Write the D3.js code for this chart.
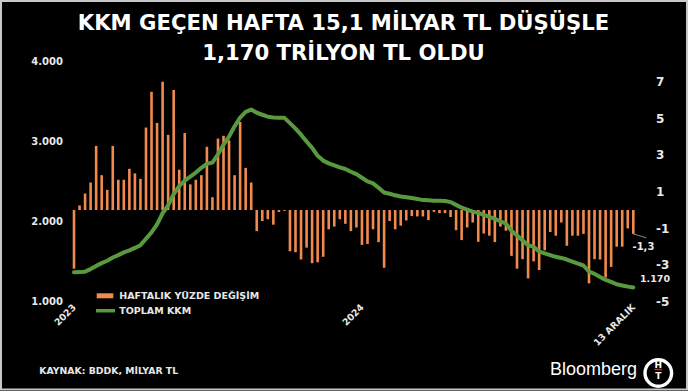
<!DOCTYPE html>
<html>
<head>
<meta charset="utf-8">
<script src="https://cdn.jsdelivr.net/npm/d3@7"></script>
<style>
  body { margin: 0; background: #000; }
  svg { display: block; }
  text { font-family: "DejaVu Sans", Verdana, sans-serif; font-weight: bold; }
</style>
</head>
<body>
<div id="chart"></div>
<script>
// haftalik yuzde degisim (sag eksen, %)
const weeklyChange = [
  -3.2, 0.25, 0.9, 1.5, 3.5, 1.9, 1.1, 3.5, 1.65, 1.65,
  2.25, 2.0, 1.7, 4.5, 6.45, 4.75, 7.0, 4.1, 6.55, 2.2,
  4.2, 1.4, 1.65, 1.9, 3.45, 0.7, 3.9, 4.05, 3.8, 1.9,
  4.8, 2.3, 1.5, -1.15, -0.6, -0.5, -0.8, -0.1, -0.05, -2.25,
  -2.3, -2.7, -2.05, -2.9, -2.85, -2.55, -1.05, -0.9, -0.5, -0.75,
  -1.15, -0.95, -1.9, -1.85, -1.05, -1.75, -3.15, -0.6, -1.05, -0.85,
  -0.57, -0.33, -0.35, -0.35, -0.55, -0.1, -0.17, -0.17, -0.38, -1.1,
  -1.64, -0.95, -0.68, -1.73, -1.28, -1.4, -1.75, -0.9, -1.13, -2.5,
  -3.2, -2.68, -3.73, -2.8, -3.27, -2.2, -1.2, -1.4, -0.68, -1.95,
  -1.4, -1.4, -1.3, -4.0, -2.68, -2.7, -3.68, -3.1, -2.0, -2.0,
  -1.0, -1.3
];

// toplam KKM (sol eksen, milyar TL)
const totalKKM = [
  1360, 1362, 1368, 1400, 1440, 1475, 1505, 1545, 1575, 1610,
  1635, 1665, 1700, 1780, 1860, 1960, 2100, 2200, 2340, 2440,
  2510, 2560, 2610, 2670, 2720, 2735, 2840, 2960, 3060, 3190,
  3300, 3370, 3400, 3360, 3335, 3310, 3300, 3296, 3296, 3230,
  3160, 3085, 3000, 2920, 2820, 2760, 2725, 2700, 2675, 2655,
  2620, 2590, 2545, 2500, 2475, 2420, 2360, 2345, 2325, 2310,
  2300, 2290, 2280, 2265, 2262, 2258, 2256, 2254, 2240, 2205,
  2170, 2145, 2120, 2105, 2080, 2055, 2030, 2000, 1970, 1880,
  1820, 1760, 1700, 1680, 1620, 1596, 1575, 1554, 1540, 1520,
  1495, 1470, 1445, 1370, 1340, 1300, 1265, 1240, 1210, 1195,
  1180, 1170
];

const leftTicks = [1000, 2000, 3000, 4000];
const rightTicks = [7, 5, 3, 1, -1, -3, -5];
const xLabelWeeks = [0, 52, 101];
const xLabelTexts = ["2023", "2024", "13 ARALIK"];
const titleLines = ["KKM GEÇEN HAFTA 15,1 MİLYAR TL DÜŞÜŞLE", "1,170 TRİLYON TL OLDU"];
const legendLabels = ["HAFTALIK YÜZDE DEĞİŞİM", "TOPLAM KKM"];
const sourceText = "KAYNAK: BDDK, MİLYAR TL";

const W = 688, H = 391;
const orange = "#f28a4e", green = "#5a9a3e", txt = "#e8e8e8";

const trLocale = d3.formatLocale({decimal: ",", thousands: ".", grouping: [3], currency: ["", ""], minus: "-"});

const svg = d3.select("#chart").append("svg")
  .attr("width", W).attr("height", H);

svg.append("rect").attr("width", W).attr("height", H).attr("fill", "#000");

// scales
const x = d3.scaleLinear().domain([0, weeklyChange.length - 1]).range([74, 633.3]);
const yL = d3.scaleLinear().domain([1000, 4000]).range([301, 61.7]);
const yR = d3.scaleLinear().domain([-5, 7]).range([301.7, 81.7]);

// title
svg.append("g").selectAll("text")
  .data(titleLines)
  .join("text")
  .attr("x", 343.5)
  .attr("y", (d, i) => 29.5 + i * 30)
  .attr("text-anchor", "middle")
  .attr("font-size", 21.2)
  .attr("fill", "#fff")
  .text(d => d);

// left axis
const axL = svg.append("g")
  .attr("transform", "translate(63,0)")
  .call(d3.axisLeft(yL).tickValues(leftTicks).tickSize(0).tickPadding(0).tickFormat(trLocale.format(",")));
axL.select(".domain").remove();
axL.selectAll("text").attr("font-size", 10).attr("fill", txt).attr("font-family", null);

// right axis
const axR = svg.append("g")
  .attr("transform", "translate(656,0)")
  .call(d3.axisRight(yR).tickValues(rightTicks).tickSize(0).tickPadding(0).tickFormat(trLocale.format("d")));
axR.select(".domain").remove();
axR.selectAll("text").attr("font-size", 12).attr("fill", txt).attr("font-family", null);

// bars
svg.append("g")
  .selectAll("rect")
  .data(weeklyChange)
  .join("rect")
  .attr("x", (d, i) => x(i) - 1.3)
  .attr("width", 2.6)
  .attr("y", d => yR(Math.max(0, d)))
  .attr("height", d => Math.abs(yR(d) - yR(0)))
  .attr("fill", orange);

// line
svg.append("path")
  .datum(totalKKM)
  .attr("fill", "none")
  .attr("stroke", green)
  .attr("stroke-width", 4)
  .attr("stroke-linejoin", "round")
  .attr("stroke-linecap", "round")
  .attr("d", d3.line().x((d, i) => x(i)).y(d => yL(d)));

// annotations for last week
const last = weeklyChange.length - 1;
svg.append("line")
  .attr("x1", x(last)).attr("y1", yR(weeklyChange[last]))
  .attr("x2", x(last) + 13).attr("y2", yR(weeklyChange[last]) + 4)
  .attr("stroke", "#aaa").attr("stroke-width", 0.8);
svg.append("text")
  .attr("x", 632.5).attr("y", 249.5)
  .attr("font-size", 10).attr("fill", txt)
  .text(trLocale.format(",.1f")(weeklyChange[last]));
svg.append("text")
  .attr("x", 640).attr("y", 282)
  .attr("font-size", 9.5).attr("fill", txt)
  .text(trLocale.format(",")(totalKKM[last]));

// x labels, rotated
svg.append("g").selectAll("text")
  .data(xLabelWeeks)
  .join("text")
  .attr("transform", d => `translate(${x(d) + 2.5},308) rotate(-45)`)
  .attr("text-anchor", "end")
  .attr("font-size", 9.3)
  .attr("fill", txt)
  .text((d, i) => xLabelTexts[i]);

// legend
const leg = svg.append("g");
leg.append("rect").attr("x", 96.7).attr("y", 293.3).attr("width", 16.6).attr("height", 5).attr("fill", orange);
leg.append("line").attr("x1", 96).attr("x2", 115).attr("y1", 310.7).attr("y2", 310.7)
  .attr("stroke", green).attr("stroke-width", 3.5);
leg.selectAll("text")
  .data(legendLabels)
  .join("text")
  .attr("x", 119.3)
  .attr("y", (d, i) => 299 + i * 15)
  .attr("font-size", 9.5)
  .attr("fill", txt)
  .text(d => d);

// source
svg.append("text")
  .attr("x", 39.3).attr("y", 373.5)
  .attr("font-size", 9.3).attr("fill", txt)
  .text(sourceText);

// Bloomberg + HT logo
svg.append("text")
  .attr("x", 637).attr("y", 375)
  .attr("text-anchor", "end")
  .style("font-family", "'Liberation Sans', Arial, sans-serif")
  .style("font-weight", "normal")
  .attr("font-size", 18)
  .attr("fill", "#fff")
  .text("Bloomberg");
const logo = svg.append("g").attr("transform", "translate(658.3,373)");
logo.append("circle").attr("r", 13.3).attr("fill", "#000").attr("stroke", "#fff").attr("stroke-width", 3.4);
logo.append("text").attr("y", -5).attr("text-anchor", "middle").attr("font-size", 9).attr("fill", "#fff").text("H");
logo.append("rect").attr("x", -4).attr("y", -4.3).attr("width", 8).attr("height", 1.6).attr("fill", "#d0202a");
logo.append("text").attr("y", 6).attr("text-anchor", "middle").attr("font-size", 9).attr("fill", "#fff").text("T");

// border
svg.append("rect")
  .attr("x", 1).attr("y", 1).attr("width", W - 2).attr("height", H - 2.5)
  .attr("fill", "none").attr("stroke", "#c8c8c8").attr("stroke-width", 2);
</script>
</body>
</html>
